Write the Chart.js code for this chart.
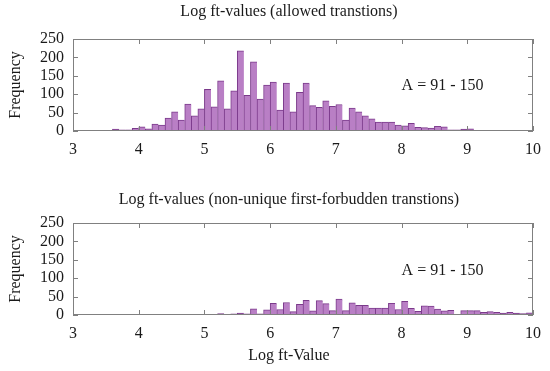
<!DOCTYPE html>
<html>
<head>
<meta charset="utf-8">
<script src="https://cdn.jsdelivr.net/npm/chart.js@4.4.0/dist/chart.umd.min.js"></script>
<style>
  body { margin: 0; width: 550px; height: 371px; background: #fff; position: relative; overflow: hidden;
         font-family: "Liberation Serif", serif; color: #1a1a1a; }
  .ttl { position: absolute; left: 89px; width: 400px; text-align: center; font-size: 16px; line-height: 18px; white-space: nowrap; z-index: 2; }
  .box { position: absolute; left: 0; width: 550px; }
</style>
</head>
<body>
<div class="ttl" style="top:2px">Log ft-values (allowed transtions)</div>
<div class="ttl" style="top:190px">Log ft-values (non-unique first-forbudden transtions)</div>
<div class="ttl" style="top:346px">Log ft-Value</div>
<div class="box" style="top:0; height:184px"><canvas id="allowedChart" width="550" height="184"></canvas></div>
<div class="box" style="top:184px; height:187px"><canvas id="forbiddenChart" width="550" height="187"></canvas></div>
<script>
// histogram bins: 0.1 wide from 3.0 to 10.0
const binStart = 3.0;
const binWidth = 0.1;

const allowedCounts = [
  0, 0, 1, 0, 1, 1, 5, 3, 3, 7,
  11, 6, 19, 16, 35, 52, 30, 73, 41, 60,
  113, 66, 136, 60, 109, 218, 97, 188, 87, 125,
  133, 57, 130, 52, 105, 130, 69, 64, 82, 67,
  72, 30, 62, 52, 41, 33, 24, 24, 24, 16,
  14, 21, 10, 9, 8, 13, 11, 3, 3, 5,
  6, 2, 1, 1, 0, 1, 1, 1, 1, 0
];

const forbiddenCounts = [
  0, 0, 0, 0, 0, 0, 0, 0, 0, 0,
  0, 0, 2, 0, 0, 0, 0, 0, 0, 0,
  2, 0, 4, 2, 3, 5, 3, 17, 3, 14,
  32, 15, 34, 9, 29, 40, 11, 39, 31, 12,
  43, 12, 33, 26, 26, 19, 19, 19, 32, 15,
  37, 18, 10, 25, 24, 16, 11, 13, 2, 12,
  12, 12, 7, 9, 7, 5, 7, 5, 4, 6
];

const xTicks = [3, 4, 5, 6, 7, 8, 9, 10];
const yTicks = [0, 50, 100, 150, 200, 250];
const annotationText = 'A = 91 - 150';

const PLOT_TOP = 39;
const PLOT_BOTTOM = 131;

function toPoints(counts) {
  return counts.map((c, i) => ({ x: binStart + binWidth * (i + 0.5), y: c }));
}

const framePlugin = {
  id: 'frame',
  afterDatasetsDraw(chart, args, opts) {
    const { ctx, chartArea: a, scales: { x, y } } = chart;
    ctx.save();
    ctx.strokeStyle = '#808080';
    ctx.lineWidth = 1;
    ctx.strokeRect(a.left + 0.5, a.top + 0.5, a.width - 1, a.height - 1);
    ctx.beginPath();
    xTicks.forEach(v => {
      const px = Math.round(x.getPixelForValue(v)) + 0.5;
      ctx.moveTo(px, a.bottom); ctx.lineTo(px, a.bottom - 5);
      ctx.moveTo(px, a.top); ctx.lineTo(px, a.top + 5);
    });
    yTicks.forEach(v => {
      const py = Math.round(y.getPixelForValue(v)) + 0.5;
      ctx.moveTo(a.left, py); ctx.lineTo(a.left + 5, py);
      ctx.moveTo(a.right, py); ctx.lineTo(a.right - 5, py);
    });
    ctx.stroke();
    ctx.fillStyle = '#1a1a1a';
    ctx.font = '16px "Liberation Serif"';
    ctx.textBaseline = 'middle';
    ctx.textAlign = 'left';
    ctx.fillText(annotationText, x.getPixelForValue(opts.ax), y.getPixelForValue(opts.ay));
    ctx.restore();
  }
};

function makeChart(id, counts, height, ay) {
  const tickFont = { family: 'Liberation Serif', size: 16 };
  return new Chart(document.getElementById(id), {
    type: 'bar',
    data: {
      datasets: [{
        data: toPoints(counts),
        backgroundColor: '#b97fc5',
        borderColor: '#7b3a8b',
        borderWidth: { top: 1, left: 1, right: 0, bottom: 0 },
        borderSkipped: false,
        barPercentage: 1,
        categoryPercentage: 1
      }]
    },
    options: {
      responsive: false,
      animation: false,
      layout: { padding: { top: PLOT_TOP, right: 15, left: 0, bottom: 0 } },
      plugins: {
        legend: { display: false },
        tooltip: { enabled: false },
        frame: { ax: 8.0, ay: ay }
      },
      scales: {
        x: {
          type: 'linear',
          offset: false,
          min: 3, max: 10,
          afterBuildTicks: s => { s.ticks = xTicks.map(v => ({ value: v })); },
          afterFit: s => { s.height = height - PLOT_BOTTOM; },
          grid: { display: false, drawTicks: false },
          border: { display: false },
          ticks: { font: tickFont, color: '#1a1a1a', padding: 9, maxRotation: 0, autoSkip: false }
        },
        y: {
          min: 0, max: 250,
          afterBuildTicks: s => { s.ticks = yTicks.map(v => ({ value: v })); },
          afterFit: s => { s.width = 73; },
          grid: { display: false, drawTicks: false },
          border: { display: false },
          ticks: { font: tickFont, color: '#1a1a1a', padding: 9, autoSkip: false },
          title: {
            display: true, text: 'Frequency', color: '#1a1a1a',
            font: { family: 'Liberation Serif', size: 16 }, padding: { top: 6, bottom: 0 }
          }
        }
      }
    },
    plugins: [framePlugin]
  });
}

makeChart('allowedChart', allowedCounts, 184, 122);
makeChart('forbiddenChart', forbiddenCounts, 187, 120);
</script>
</body>
</html>
